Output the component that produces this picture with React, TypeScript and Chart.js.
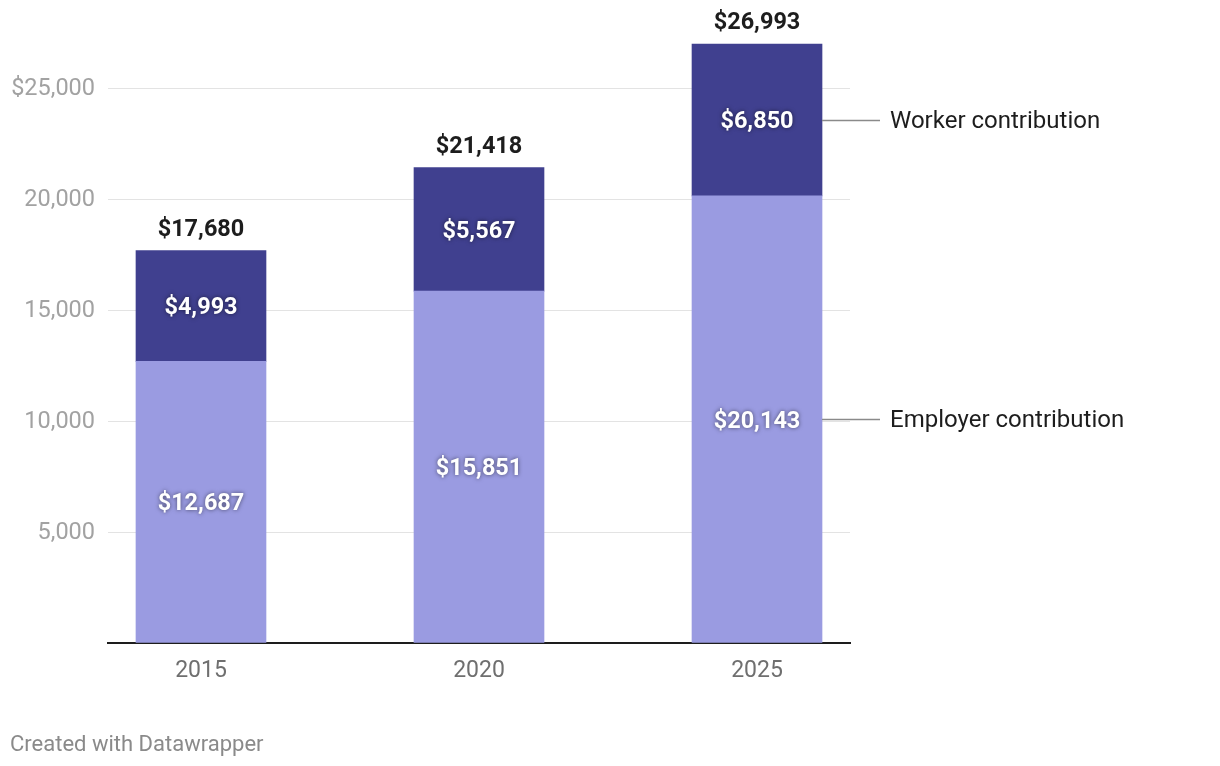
import React, { useEffect, useRef } from "react";
import { Chart, registerables } from "chart.js";

Chart.register(...registerables);

const YEARS = ["2015", "2020", "2025"];
const EMPLOYER = [12687, 15851, 20143];
const WORKER = [4993, 5567, 6850];
const TOTALS = [17680, 21418, 26993];
const SERIES_NAMES = ["Employer contribution", "Worker contribution"];
const Y_TICKS = [0, 5000, 10000, 15000, 20000, 25000];

const FONT = "Roboto, 'Noto Sans', sans-serif";
const fmt = (v: number) => "$" + v.toLocaleString("en-US");

const labelPlugin = {
  id: "dwLabels",
  afterDatasetsDraw(chart: any) {
    const ctx = chart.ctx as CanvasRenderingContext2D;
    const metas = [chart.getDatasetMeta(0), chart.getDatasetMeta(1)];
    const values = [EMPLOYER, WORKER];
    ctx.save();
    ctx.textAlign = "center";
    ctx.textBaseline = "middle";
    ctx.font = `bold 23.5px ${FONT}`;
    metas.forEach((meta, di) => {
      meta.data.forEach((bar: any, i: number) => {
        const p = bar.getProps(["x", "y", "base"], true);
        ctx.save();
        ctx.shadowColor = "rgba(0,0,0,0.55)";
        ctx.shadowBlur = 4;
        ctx.fillStyle = "#ffffff";
        ctx.fillText(fmt(values[di][i]), p.x, (p.y + p.base) / 2 + 2.5);
        ctx.restore();
      });
    });
    // totals
    ctx.fillStyle = "#1d1d1d";
    metas[1].data.forEach((bar: any, i: number) => {
      const p = bar.getProps(["x", "y"], true);
      ctx.fillText(fmt(TOTALS[i]), p.x, p.y - 20.5);
    });
    // right-side series labels
    ctx.font = `24px ${FONT}`;
    ctx.textAlign = "left";
    metas.forEach((meta, di) => {
      const last = meta.data[meta.data.length - 1];
      const p = last.getProps(["x", "y", "base", "width"], true);
      const yMid = Math.round((p.y + p.base) / 2) + 0.5;
      const x0 = p.x + p.width / 2;
      ctx.strokeStyle = "#8a8a8a";
      ctx.lineWidth = 1.5;
      ctx.beginPath();
      ctx.moveTo(x0, yMid);
      ctx.lineTo(x0 + 58, yMid);
      ctx.stroke();
      ctx.fillStyle = "#1d1d1d";
      ctx.fillText(SERIES_NAMES[di], x0 + 68, yMid + 1.5);
    });
    // footer
    ctx.font = `22px ${FONT}`;
    ctx.fillStyle = "#8a8a8a";
    ctx.fillText("Created with Datawrapper", 2, 737.5);
    ctx.restore();
  },
};

export default function App() {
  const ref = useRef<HTMLCanvasElement | null>(null);
  useEffect(() => {
    if (!ref.current) return;
    const chart = new Chart(ref.current, {
      type: "bar",
      data: {
        datasets: [
          {
            label: SERIES_NAMES[0],
            data: EMPLOYER.map((v, i) => ({ x: i, y: v })),
            backgroundColor: "#9a9be1",
            borderWidth: 0,
            barThickness: 130,
          },
          {
            label: SERIES_NAMES[1],
            data: WORKER.map((v, i) => ({ x: i, y: v })),
            backgroundColor: "#40408f",
            borderWidth: 0,
            barThickness: 130,
          },
        ],
      },
      options: {
        animation: false,
        responsive: true,
        maintainAspectRatio: false,
        layout: { padding: { top: 35.6, right: 362, bottom: 65, left: 0 } },
        plugins: {
          legend: { display: false },
          tooltip: { enabled: false },
        },
        scales: {
          x: {
            type: "linear",
            stacked: true,
            offset: false,
            min: -0.3345,
            max: 2.3345,
            grid: { display: false, drawTicks: false, offset: false },
            border: { display: true, color: "#1d1d1d", width: 2 },
            afterBuildTicks: (scale: any) => {
              scale.ticks = YEARS.map((_, i) => ({ value: i }));
            },
            afterFit: (scale: any) => {
              scale.height = 50;
            },
            ticks: {
              padding: 14,
              color: "#6f6f6f",
              font: { family: FONT, size: 23 },
              callback: (v: any) => YEARS[v] ?? "",
            },
          },
          y: {
            stacked: true,
            min: 0,
            max: 27000,
            afterBuildTicks: (scale: any) => {
              scale.ticks = Y_TICKS.map((v) => ({ value: v }));
            },
            afterFit: (scale: any) => {
              scale.width = 100;
            },
            grid: {
              drawTicks: false,
              color: (c: any) => (c.tick && c.tick.value === 0 ? "rgba(0,0,0,0)" : "#e3e3e3"),
              lineWidth: 1,
            },
            border: { display: false },
            ticks: {
              padding: 13,
              labelOffset: 1.5,
              color: "#a2a2a2",
              font: { family: FONT, size: 23.5 },
              callback: (v: any) => {
                if (v === 0) return "";
                const s = Number(v).toLocaleString("en-US");
                return v === 25000 ? "$" + s : s;
              },
            },
          },
        },
      },
      plugins: [labelPlugin],
    } as any);
    return () => chart.destroy();
  }, []);
  return (
    <div style={{ width: 1204, height: 750, position: "relative" }}>
      <canvas ref={ref} />
    </div>
  );
}
